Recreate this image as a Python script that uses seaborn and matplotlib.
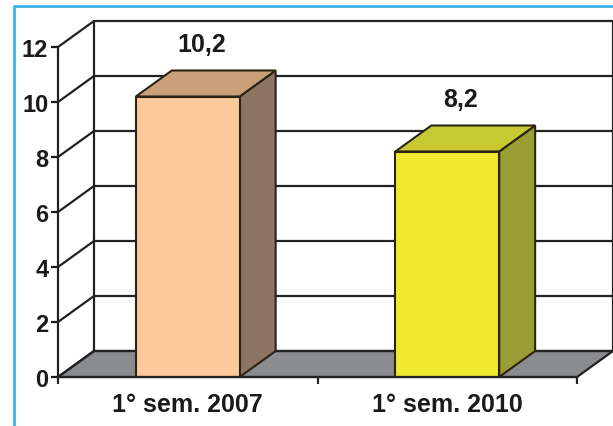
import matplotlib
matplotlib.use("Agg")
import matplotlib.pyplot as plt
from matplotlib.patches import Polygon
from matplotlib.lines import Line2D
import seaborn as sns

# Data
categories = ["1° sem. 2007", "1° sem. 2010"]
values = [10.2, 8.2]
value_labels = ["10,2", "8,2"]
y_ticks = [0, 2, 4, 6, 8, 10, 12]

# Face colours per bar: front, top, side
front_colors = ["#FBC99A", "#F0E930"]
top_colors = ["#C9A079", "#C8C832"]
side_colors = ["#8E7462", "#9C9C34"]
edge = "#2B2414"
floor_color = "#8A8C90"

sns.set_style("white")
plt.rcParams["font.family"] = ["Liberation Sans", "DejaVu Sans"]

W, H = 613, 427
fig = plt.figure(figsize=(W / 100, H / 100), dpi=100)

# Depth offset of the pseudo-3D view (data units)
BAR_W = 0.4
DX = 36 / 259.5
DY = 26 / 27.5
ax = fig.add_axes([58 / W, 49 / H, 555 / W, 356 / H])

sns.barplot(x=categories, y=values, hue=categories, palette=front_colors,
            legend=False, width=BAR_W, edgecolor=edge, linewidth=1.5,
            saturation=1, ax=ax, zorder=4)

ax.set_xlim(-0.5, 1.5 + DX)
ax.set_ylim(0, 12 + DY)
x0, x1 = -0.5, 1.5
LW = 1.6

# Floor
ax.add_patch(Polygon([(x0, 0), (x1, 0), (x1 + DX, DY), (x0 + DX, DY)],
                     closed=True, facecolor=floor_color, edgecolor="#222222",
                     linewidth=LW, zorder=1, clip_on=False))

# Back wall gridlines and side wall diagonals
for v in y_ticks:
    ax.plot([x0 + DX, x1 + DX], [v + DY, v + DY], color="#222222", lw=LW,
            zorder=2, clip_on=False, solid_capstyle="butt")
    ax.plot([x0, x0 + DX], [v, v + DY], color="#222222", lw=LW,
            zorder=2, clip_on=False)
for xv in (x0 + DX, x1 + DX):
    ax.plot([xv, xv], [DY, 12 + DY], color="#222222", lw=LW, zorder=2,
            clip_on=False)

# Top and side faces of each bar, plus value labels
for i, v in enumerate(values):
    xl, xr = i - BAR_W / 2, i + BAR_W / 2
    ax.add_patch(Polygon([(xr, 0), (xr + DX, DY), (xr + DX, v + DY), (xr, v)],
                         closed=True, facecolor=side_colors[i], edgecolor=edge,
                         linewidth=1.5, zorder=3))
    ax.add_patch(Polygon([(xl, v), (xr, v), (xr + DX, v + DY), (xl + DX, v + DY)],
                         closed=True, facecolor=top_colors[i], edgecolor=edge,
                         linewidth=1.5, zorder=3))
    ax.text(i + DX * 0.38, v + DY + 0.95, value_labels[i], ha="center",
            va="center", fontsize=18, fontweight="bold", color="#1A1A1A")

# Axes: left value axis and front category axis
for s in ("top", "right"):
    ax.spines[s].set_visible(False)
ax.spines["left"].set_bounds(0, 12)
ax.spines["bottom"].set_bounds(x0, x1)
for s in ("left", "bottom"):
    ax.spines[s].set_color("#222222")
    ax.spines[s].set_linewidth(LW)
    ax.spines[s].set_zorder(5)

ax.set_yticks(y_ticks)
ax.set_yticklabels([str(t) for t in y_ticks])
ax.tick_params(axis="y", direction="out", length=5, width=LW, pad=2,
               labelsize=17, colors="#1A1A1A", left=True)
for lab in ax.get_yticklabels():
    lab.set_fontweight("bold")

ax.set_xticks([x0, 0.5, x1])
ax.set_xticklabels(["", "", ""])
ax.set_xticks([0, 1], minor=True)
ax.set_xticklabels(categories, minor=True)
ax.tick_params(axis="x", which="major", direction="out", length=5, width=LW,
               bottom=True)
ax.tick_params(axis="x", which="minor", length=0, pad=11, labelsize=18,
               labelcolor="#1A1A1A")
for lab in ax.get_xticklabels(minor=True):
    lab.set_fontweight("bold")
ax.set_xlabel("")
ax.set_ylabel("")

# Frame around the chart area
fx, fy = 14 / W, (H - 7) / H
fig.add_artist(Line2D([fx, fx, 1.0], [0.0, fy, fy], color="#3DB5E8", lw=2,
                      transform=fig.transFigure))

fig.savefig("out.png", dpi=100, facecolor="white")
